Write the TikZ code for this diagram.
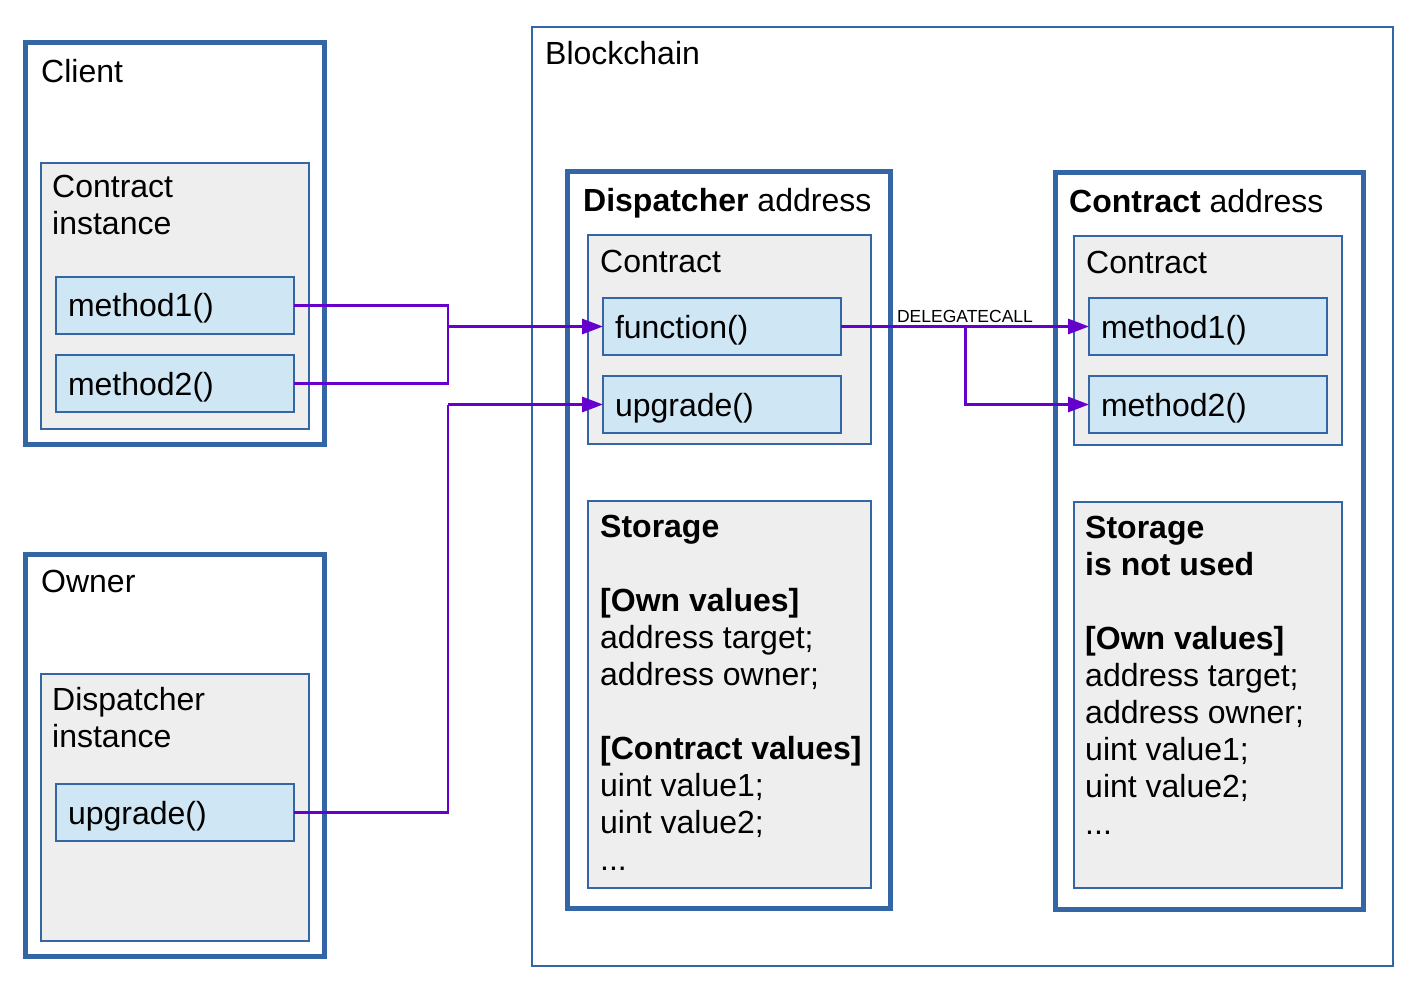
\documentclass[tikz,border=0pt]{standalone}
\usepackage{fontspec}
\setmainfont{Liberation Sans}
\usetikzlibrary{arrows.meta,fit}
\definecolor{frameblue}{HTML}{3465A4}
\definecolor{panelgray}{HTML}{EEEEEE}
\definecolor{callblue}{HTML}{CFE7F5}
\definecolor{flowpurple}{HTML}{6600CC}

\begin{document}
\begin{tikzpicture}[x=1pt,y=-1pt,
  frame/.style={draw=frameblue,line width=5pt,inner sep=0pt,outer sep=0pt},
  zone/.style={draw=frameblue,line width=1.2pt,inner sep=0pt,outer sep=0pt},
  panel/.style={draw=frameblue,line width=1.2pt,fill=panelgray,inner sep=0pt,outer sep=0pt},
  call/.style={draw=frameblue,line width=1.2pt,fill=callblue,anchor=north west,outer sep=0pt,
    minimum width=238pt,minimum height=57pt,text width=214pt,inner xsep=12pt,align=left,
    text height=23pt,text depth=0pt,font=\fontsize{32}{37}\selectfont},
  txt/.style={anchor=north west,inner sep=0pt,align=left,font=\fontsize{32}{37}\selectfont},
  wire/.style={draw=flowpurple,line width=2.2pt},
  flow/.style={draw=flowpurple,line width=3pt,-{Triangle[length=21pt,width=15pt]}}]
\useasboundingbox (0,0) rectangle (1403,992);

% client side
\node [frame, fit={(25,43) (324,444)}] (client) {};
\node [txt] (clientlbl) at (41,59) {Client};
\node [panel, fit={(41,163) (309,429)}] (cinst) {};
\node [txt] (cinstlbl) at (52,175) {Contract\\instance};
\node [call] (m1) at (56,277) {method1()};
\node [call] (m2) at (56,355) {method2()};

% owner side
\node [frame, fit={(25,554) (324,956)}] (owner) {};
\node [txt] (ownerlbl) at (41,570) {Owner};
\node [panel, fit={(41,674) (309,941)}] (dinst) {};
\node [txt] (dinstlbl) at (52,687) {Dispatcher\\instance};
\node [call] (ou) at (56,784) {upgrade()};

% blockchain
\node [zone, fit={(532,27) (1393,966)}] (chain) {};
\node [txt] (chainlbl) at (545,41) {Blockchain};

% dispatcher address
\node [frame, fit={(567,172) (890,908)}] (disp) {};
\node [txt] (displbl) at (583,188) {\textbf{Dispatcher} address};
\node [panel, fit={(588,235) (871,444)}] (dcon) {};
\node [txt] (dconlbl) at (600,250) {Contract};
\node [call] (fn) at (603,298) {function()};
\node [call] (up) at (603,376) {upgrade()};
\node [panel, fit={(588,501) (871,888)}] (dstore) {};
\node [txt] (dstorelbl) at (600,515) {\textbf{Storage}\\[37pt]
  \textbf{[Own values]}\\
  address target;\\
  address owner;\\[37pt]
  \textbf{[Contract values]}\\
  uint value1;\\
  uint value2;\\
  ...};

% contract address
\node [frame, fit={(1055,173) (1363,909)}] (cadr) {};
\node [txt] (cadrlbl) at (1069,189) {\textbf{Contract} address};
\node [panel, fit={(1074,236) (1342,445)}] (ccon) {};
\node [txt] (cconlbl) at (1086,251) {Contract};
\node [call] (cm1) at (1089,298) {method1()};
\node [call] (cm2) at (1089,376) {method2()};
\node [panel, fit={(1074,502) (1342,888)}] (cstore) {};
\node [txt] (cstorelbl) at (1085,516) {\textbf{Storage}\\
  \textbf{is not used}\\[37pt]
  \textbf{[Own values]}\\
  address target;\\
  address owner;\\
  uint value1;\\
  uint value2;\\
  ...};

% calls
\coordinate (j1) at (448,326.5);
\coordinate (j2) at (448,404.5);
\coordinate (j3) at (965,326.5);
\draw [wire] (m1.east) -| (j1);
\draw [wire] (m2.east) -| (j1);
\draw [flow] (j1) -- (fn.west);
\draw [wire] (ou.east) -| (j2);
\draw [flow] (j2) -- (up.west);
\draw [flow] (fn.east) -- node [above, inner sep=2pt, font=\fontsize{17.5}{20}\selectfont] {DELEGATECALL} (cm1.west);
\draw [flow] (j3) |- (cm2.west);
\end{tikzpicture}
\end{document}
